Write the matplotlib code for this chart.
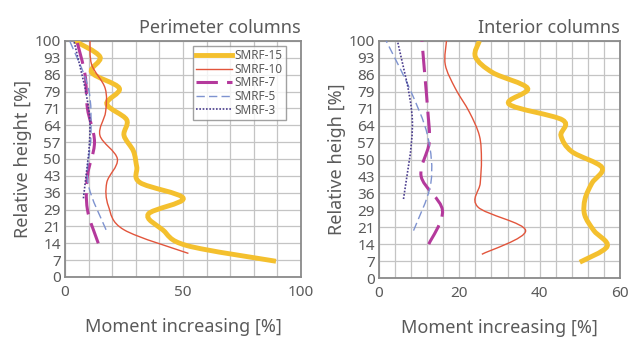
import numpy as np
import matplotlib
matplotlib.use("Agg")
import matplotlib.pyplot as plt
from matplotlib.path import Path
from matplotlib.patches import PathPatch
from matplotlib.lines import Line2D

plt.rcParams['font.family'] = ['Noto Sans', 'DejaVu Sans']

# ---------------- data ----------------
series_names = ["SMRF-15", "SMRF-10", "SMRF-7", "SMRF-5", "SMRF-3"]
stories = [15, 10, 7, 5, 3]

# Perimeter columns: moment increase [%] at each story level (bottom -> top)
perim_15 = [89.4, 51.6, 41.4, 35.3, 50.1, 31.8, 30.4, 29.0, 25.0, 26.1, 17.7, 23.0, 11.3, 14.8, 4.2]
perim_10 = [52.3, 25.0, 18.4, 17.7, 22.2, 14.8, 17.2, 17.0, 11.3, 10.6]
perim_7 = [14.1, 9.5, 9.5, 12.5, 9.5, 8.5, 5.0]
perim_5 = [17.4, 9.7, 11.0, 9.9, 2.0]
perim_3 = [7.8, 10.5, 3.8]

# Interior columns
inter_15 = [50.0, 56.8, 53.5, 51.2, 51.3, 53.0, 55.5, 48.0, 45.3, 45.7, 32.4, 37.0, 28.3, 24.0, 25.0]
inter_10 = [25.6, 36.5, 24.6, 25.2, 25.5, 25.0, 22.5, 19.0, 16.5, 16.8]
inter_7 = [12.4, 15.8, 10.5, 12.5, 12.1, 11.4, 10.7]
inter_5 = [8.6, 12.9, 12.1, 7.6, 1.8]
inter_3 = [6.1, 8.3, 4.6]

y_tick_values = list(np.linspace(0, 100, 15))
y_tick_labels = ["0", "7", "14", "21", "29", "36", "43", "50", "57", "64", "71", "79", "86", "93", "100"]

panel_titles = ["Perimeter columns", "Interior columns"]
y_labels = ["Relative height [%]", "Relative heigh [%]"]
x_label = "Moment increasing [%]"

# ---------------- styles ----------------
styles = [
    dict(color="#F4C02E", lw=3.5, ls="-"),
    dict(color="#E2553C", lw=1.0, ls="-"),
    dict(color="#B4399C", lw=2.2, ls=(0, (7, 3))),
    dict(color="#7E93D0", lw=1.0, ls=(0, (6, 3))),
    dict(color="#4A3C8E", lw=1.2, ls=(0, (1, 1))),
]

GRAY = "#5a5a5a"


def smooth_path(xs, ys):
    pts = np.column_stack([xs, ys]).astype(float)
    n = len(pts)
    verts = [pts[0]]
    codes = [Path.MOVETO]
    for i in range(n - 1):
        p0 = pts[i - 1] if i > 0 else pts[i]
        p1 = pts[i]
        p2 = pts[i + 1]
        p3 = pts[i + 2] if i + 2 < n else pts[i + 1]
        c1 = p1 + (p2 - p0) / 6.0
        c2 = p2 - (p3 - p1) / 6.0
        verts += [c1, c2, p2]
        codes += [Path.CURVE4] * 3
    return Path(verts, codes)


def draw_panel(ax, series, xmax, xmajor, xminor, title, ylabel, legend):
    ax.set_xlim(0, xmax)
    ax.set_ylim(0, 100)
    ax.set_xticks(xmajor)
    ax.set_xticks(xminor, minor=True)
    ax.set_yticks(y_tick_values)
    ax.set_yticklabels(y_tick_labels)
    ax.grid(True, which="both", color="#c4c4c4", lw=0.9)
    ax.set_axisbelow(True)
    ax.tick_params(which="both", length=0, colors=GRAY, labelsize=11)
    ax.tick_params(axis="y", pad=3)
    ax.tick_params(axis="x", pad=6)
    for s in ax.spines.values():
        s.set_color("#8a8a8a")
        s.set_linewidth(1.3)
    handles = []
    for vals, n, st, name in zip(series, stories, styles, series_names):
        ys = [100.0 * (k + 1) / n for k in range(n)]
        patch = PathPatch(smooth_path(vals, ys), fill=False, edgecolor=st["color"],
                          lw=st["lw"], linestyle=st["ls"], capstyle="butt", zorder=3)
        ax.add_patch(patch)
        handles.append(Line2D([], [], color=st["color"], lw=st["lw"], linestyle=st["ls"]))
    ax.set_title(title, loc="right", color=GRAY, fontsize=13, pad=6)
    ax.set_ylabel(ylabel, color=GRAY, fontsize=13, labelpad=2)
    ax.set_xlabel(x_label, color=GRAY, fontsize=13, labelpad=13)
    if legend:
        leg = ax.legend(handles, series_names, loc="upper right", fontsize=8.5,
                        frameon=True, fancybox=False, edgecolor="#8a8a8a",
                        handlelength=3.0, handletextpad=0.2, borderpad=0.3,
                        labelspacing=0.05, borderaxespad=0.4,
                        bbox_to_anchor=(0.955, 1.0))
        leg.get_frame().set_linewidth(1.0)
        for t in leg.get_texts():
            t.set_color(GRAY)


fig = plt.figure(figsize=(6.32, 3.42), dpi=100)
fig.patch.set_facecolor("white")
ax1 = fig.add_axes([65 / 632, (342 - 277) / 342, 236 / 632, 236 / 342])
ax2 = fig.add_axes([379 / 632, (342 - 278) / 342, 241 / 632, 237 / 342])

draw_panel(ax1, [perim_15, perim_10, perim_7, perim_5, perim_3], 100,
           [0, 50, 100], list(range(0, 101, 10)), panel_titles[0], y_labels[0], True)
draw_panel(ax2, [inter_15, inter_10, inter_7, inter_5, inter_3], 60,
           [0, 20, 40, 60], list(range(0, 61, 4)), panel_titles[1], y_labels[1], False)

fig.savefig("out.png", dpi=100)
